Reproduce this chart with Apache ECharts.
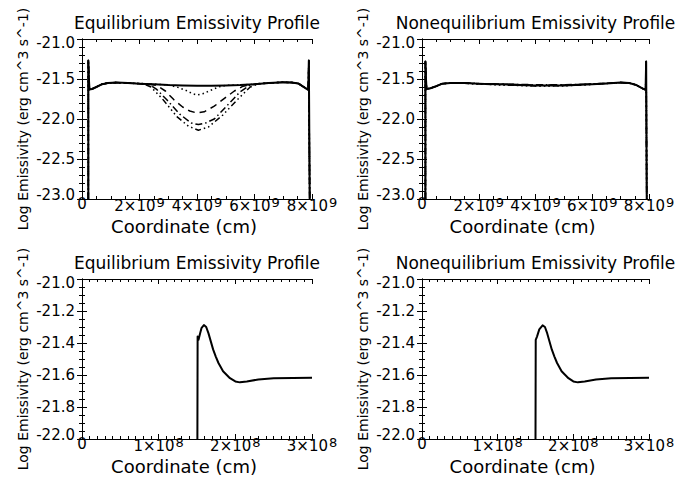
<!DOCTYPE html>
<html>
<head>
<meta charset="utf-8">
<script src="https://cdn.jsdelivr.net/npm/echarts@6/dist/echarts.min.js"></script>
<style>
html,body{margin:0;padding:0;background:#fff;}
#chart{width:686px;height:479px;}
</style>
</head>
<body>
<div id="chart"></div>
<script>
// ---------------- DATA ----------------
const titles = ['Equilibrium Emissivity Profile', 'Nonequilibrium Emissivity Profile',
                'Equilibrium Emissivity Profile', 'Nonequilibrium Emissivity Profile'];
const xTitle = 'Coordinate (cm)';
const yTitle = 'Log Emissivity (erg cm^3 s^-1)';

// x in units of 1e9 cm (top row), 1e8 cm (bottom row)
const topUnit = 1e9;
const botUnit = 1e8;
const topExp = 9;
const botExp = 8;

// Top-left: equilibrium, full loop
const eqTopSolid = [[0.22,-23.0],[0.22,-21.27],[0.24,-21.5],[0.26,-21.63],[0.35,-21.625],[0.5,-21.60],[0.7,-21.565],[0.9,-21.55],[1.2,-21.545],[1.6,-21.55],[2.0,-21.56],[2.5,-21.565],[3.0,-21.575],[3.5,-21.58],[4.0,-21.585],[4.5,-21.585],[5.0,-21.58],[5.5,-21.575],[6.0,-21.565],[6.5,-21.55],[7.0,-21.54],[7.3,-21.545],[7.52,-21.555],[7.76,-21.61],[7.87,-21.635],[7.89,-21.27],[7.92,-23.0]];
const eqTopDot = [[0.22,-23.0],[0.22,-21.27],[0.24,-21.5],[0.26,-21.63],[0.35,-21.625],[0.5,-21.60],[0.7,-21.565],[0.9,-21.55],[1.2,-21.545],[1.6,-21.55],[2.0,-21.56],[2.5,-21.565],[3.0,-21.575],[3.3,-21.6],[3.6,-21.64],[3.85,-21.685],[4.0,-21.70],[4.2,-21.685],[4.45,-21.645],[4.75,-21.6],[5.0,-21.58],[5.5,-21.575],[6.0,-21.565],[6.5,-21.55],[7.0,-21.54],[7.3,-21.545],[7.52,-21.555],[7.76,-21.61],[7.87,-21.635],[7.89,-21.27],[7.92,-23.0]];
const eqTopDash = [[0.22,-23.0],[0.22,-21.27],[0.24,-21.5],[0.26,-21.63],[0.35,-21.625],[0.5,-21.60],[0.7,-21.565],[0.9,-21.55],[1.2,-21.545],[1.6,-21.55],[2.0,-21.56],[2.3,-21.565],[2.6,-21.58],[2.9,-21.65],[3.2,-21.76],[3.5,-21.85],[3.75,-21.9],[4.0,-21.925],[4.25,-21.91],[4.6,-21.84],[5.0,-21.73],[5.3,-21.65],[5.6,-21.59],[5.9,-21.57],[6.5,-21.55],[7.0,-21.54],[7.3,-21.545],[7.52,-21.555],[7.76,-21.61],[7.87,-21.635],[7.89,-21.27],[7.92,-23.0]];
const eqTopDashDot = [[0.22,-23.0],[0.22,-21.27],[0.24,-21.5],[0.26,-21.63],[0.35,-21.625],[0.5,-21.60],[0.7,-21.565],[0.9,-21.55],[1.2,-21.545],[1.6,-21.55],[2.0,-21.555],[2.3,-21.56],[2.6,-21.63],[2.95,-21.76],[3.4,-21.94],[3.8,-22.05],[4.05,-22.07],[4.3,-22.05],[4.6,-22.0],[5.0,-21.85],[5.5,-21.66],[5.85,-21.575],[6.1,-21.56],[6.5,-21.55],[7.0,-21.54],[7.3,-21.545],[7.52,-21.555],[7.76,-21.61],[7.87,-21.635],[7.89,-21.27],[7.92,-23.0]];
const eqTopDash3Dot = [[0.22,-23.0],[0.22,-21.27],[0.24,-21.5],[0.26,-21.63],[0.35,-21.625],[0.5,-21.60],[0.7,-21.565],[0.9,-21.55],[1.2,-21.545],[1.6,-21.55],[2.1,-21.555],[2.4,-21.6],[2.8,-21.75],[3.3,-21.97],[3.7,-22.09],[4.05,-22.14],[4.4,-22.1],[4.9,-21.95],[5.4,-21.76],[5.85,-21.6],[6.2,-21.555],[6.5,-21.55],[7.0,-21.54],[7.3,-21.545],[7.52,-21.555],[7.76,-21.61],[7.87,-21.635],[7.89,-21.27],[7.92,-23.0]];

// Top-right: nonequilibrium, full loop
const neqTopSolid = [[0.12,-23.0],[0.12,-21.28],[0.14,-21.5],[0.16,-21.625],[0.3,-21.615],[0.5,-21.59],[0.7,-21.56],[1.0,-21.55],[1.5,-21.55],[2.0,-21.56],[3.0,-21.57],[4.0,-21.58],[5.0,-21.58],[6.0,-21.565],[6.5,-21.555],[7.0,-21.545],[7.3,-21.55],[7.55,-21.575],[7.75,-21.615],[7.88,-21.635],[7.9,-21.28],[7.92,-23.0]];
const neqTopDot = [[0.12,-23.0],[0.12,-21.28],[0.14,-21.5],[0.16,-21.625],[0.3,-21.615],[0.5,-21.59],[0.7,-21.56],[1.0,-21.55],[1.5,-21.552],[2.0,-21.562],[3.0,-21.575],[4.0,-21.585],[5.0,-21.583],[6.0,-21.567],[6.5,-21.555],[7.0,-21.545],[7.3,-21.55],[7.55,-21.575],[7.75,-21.615],[7.88,-21.635],[7.9,-21.28],[7.92,-23.0]];
const neqTopDash = [[0.12,-23.0],[0.12,-21.28],[0.14,-21.5],[0.16,-21.625],[0.3,-21.615],[0.5,-21.59],[0.7,-21.56],[1.0,-21.55],[1.5,-21.551],[2.0,-21.558],[3.0,-21.567],[4.0,-21.575],[5.0,-21.575],[6.0,-21.563],[6.5,-21.555],[7.0,-21.545],[7.3,-21.55],[7.55,-21.575],[7.75,-21.615],[7.88,-21.635],[7.9,-21.28],[7.92,-23.0]];
const neqTopDashDot = [[0.12,-23.0],[0.12,-21.28],[0.14,-21.5],[0.16,-21.625],[0.3,-21.615],[0.5,-21.59],[0.7,-21.56],[1.0,-21.55],[1.5,-21.549],[2.0,-21.556],[3.0,-21.565],[4.0,-21.572],[5.0,-21.572],[6.0,-21.562],[6.5,-21.555],[7.0,-21.545],[7.3,-21.55],[7.55,-21.575],[7.75,-21.615],[7.88,-21.635],[7.9,-21.28],[7.92,-23.0]];
const neqTopDash3Dot = [[0.12,-23.0],[0.12,-21.28],[0.14,-21.5],[0.16,-21.625],[0.3,-21.615],[0.5,-21.59],[0.7,-21.56],[1.0,-21.55],[1.5,-21.553],[2.0,-21.563],[3.0,-21.577],[4.0,-21.587],[5.0,-21.585],[6.0,-21.568],[6.5,-21.555],[7.0,-21.545],[7.3,-21.55],[7.55,-21.575],[7.75,-21.615],[7.88,-21.635],[7.9,-21.28],[7.92,-23.0]];

// Bottom-left: equilibrium, zoom near footpoint (x in 1e8 cm)
const eqBot = [[1.505,-22.0],[1.508,-21.36],[1.52,-21.38],[1.54,-21.34],[1.56,-21.305],[1.59,-21.288],[1.62,-21.30],[1.65,-21.34],[1.68,-21.39],[1.71,-21.44],[1.745,-21.485],[1.78,-21.525],[1.84,-21.577],[1.93,-21.62],[2.0,-21.64],[2.06,-21.646],[2.15,-21.64],[2.3,-21.628],[2.5,-21.621],[2.75,-21.618],[3.0,-21.617]];
// Bottom-right: nonequilibrium
const neqBot = [[1.50,-22.0],[1.503,-21.38],[1.52,-21.36],[1.55,-21.315],[1.594,-21.29],[1.625,-21.30],[1.655,-21.34],[1.685,-21.39],[1.715,-21.44],[1.75,-21.485],[1.785,-21.525],[1.845,-21.577],[1.935,-21.62],[2.0,-21.64],[2.06,-21.646],[2.15,-21.64],[2.3,-21.628],[2.5,-21.621],[2.75,-21.618],[3.0,-21.617]];

// axis ranges / ticks
const topXRange = [0, 8e9], topXStep = 2e9;
const topYRange = [-23.0, -21.0], topYStep = 0.5;
const botXRange = [0, 3e8], botXStep = 1e8;
const botYRange = [-22.0, -21.0], botYStep = 0.2;

// ---------------- CHART ----------------
const FONT = 'DejaVu Sans';
const chart = echarts.init(document.getElementById('chart'), null, {renderer: 'svg'});

const grids = [
  {left: 82, top: 39, width: 230, height: 160},
  {left: 422, top: 39, width: 227, height: 160},
  {left: 82, top: 279, width: 230, height: 160},
  {left: 422, top: 279, width: 227, height: 160}
];

function scaleX(arr, unit) { return arr.map(p => [p[0] * unit, p[1]]); }

function xLabelFmt(unit, exp) {
  return function (v) {
    if (Math.abs(v) < 1e-6) return '0';
    const m = Math.round(v / unit);
    return m + '×10{s|' + exp + '}';
  };
}
function yLabelFmt(range) {
  return function (v) {
    const t = v.toFixed(1);
    if (Math.abs(v - range[1]) < 1e-9) return '{hi|' + t + '}';
    if (Math.abs(v - range[0]) < 1e-9) return '{lo|' + t + '}';
    return t;
  };
}

const xAxes = [], yAxes = [];
const axisLineStyle = {show: true, lineStyle: {color: '#000', width: 1}};
for (let i = 0; i < 4; i++) {
  const top = i < 2;
  const xr = top ? topXRange : botXRange;
  const xs = top ? topXStep : botXStep;
  const yr = top ? topYRange : botYRange;
  const ys = top ? topYStep : botYStep;
  const xMinor = top ? 4 : 10;
  const yMinor = top ? 5 : 4;
  const fmt = xLabelFmt(top ? topUnit : botUnit, top ? topExp : botExp);
  const common = {type: 'value', gridIndex: i, splitLine: {show: false}, axisLine: axisLineStyle};
  xAxes.push(Object.assign({}, common, {
    position: 'bottom', min: xr[0], max: xr[1], interval: xs,
    name: xTitle, nameLocation: 'middle', nameGap: 18,
    nameTextStyle: {fontFamily: FONT, fontSize: 18, color: '#000', padding: [0, 26, 0, 0], verticalAlign: 'top'},
    axisTick: {show: true, inside: true, length: 5, lineStyle: {color: '#000'}},
    minorTick: {show: true, splitNumber: xMinor, length: 3, lineStyle: {color: '#000'}},
    axisLabel: {show: true, margin: -3, formatter: fmt, color: '#000', fontFamily: FONT, fontSize: 15,
      verticalAlign: 'top',
      rich: {
        s: {fontFamily: FONT, fontSize: 13, color: '#000', verticalAlign: 'bottom', padding: [0, 0, 6, 1]}
      }}
  }));
  xAxes.push(Object.assign({}, common, {
    position: 'top', min: xr[0], max: xr[1], interval: xs,
    axisTick: {show: true, inside: true, length: 5, lineStyle: {color: '#000'}},
    minorTick: {show: true, splitNumber: xMinor, length: 3, lineStyle: {color: '#000'}},
    axisLabel: {show: false}
  }));
  yAxes.push(Object.assign({}, common, {
    position: 'left', min: yr[0], max: yr[1], interval: ys,
    name: yTitle, nameLocation: 'middle', nameGap: 52,
    nameTextStyle: {fontFamily: FONT, fontSize: 14, color: '#000'},
    axisTick: {show: true, inside: true, length: 5, lineStyle: {color: '#000'}},
    minorTick: {show: true, splitNumber: yMinor, length: 3, lineStyle: {color: '#000'}},
    axisLabel: {show: true, margin: 7, color: '#000', fontFamily: FONT, fontSize: 15,
      formatter: yLabelFmt(yr),
      rich: {
        hi: {fontFamily: FONT, fontSize: 15, color: '#000', padding: [8, 0, 0, 0]},
        lo: {fontFamily: FONT, fontSize: 15, color: '#000', padding: [0, 0, 9, 0]}
      }}
  }));
  yAxes.push(Object.assign({}, common, {
    position: 'right', min: yr[0], max: yr[1], interval: ys,
    axisTick: {show: true, inside: true, length: 5, lineStyle: {color: '#000'}},
    minorTick: {show: true, splitNumber: yMinor, length: 3, lineStyle: {color: '#000'}},
    axisLabel: {show: false}
  }));
}

const styles = [
  {type: 'solid', width: 2},
  {type: [1.5, 3], width: 1.5},
  {type: [7, 5], width: 1.5},
  {type: [7, 3, 1.5, 3], width: 1.5},
  {type: [6, 3, 1.5, 3, 1.5, 3, 1.5, 3], width: 1.5}
];

function line(data, gi, unit, st) {
  return {
    type: 'line', xAxisIndex: gi * 2, yAxisIndex: gi * 2,
    data: scaleX(data, unit), showSymbol: false, symbol: 'none',
    clip: true, animation: false, silent: true,
    lineStyle: {color: '#000', width: st.width, type: st.type, cap: 'butt', join: 'round'}
  };
}

const series = [];
[eqTopSolid, eqTopDot, eqTopDash, eqTopDashDot, eqTopDash3Dot].forEach((d, k) => series.push(line(d, 0, topUnit, styles[k])));
[neqTopSolid, neqTopDot, neqTopDash, neqTopDashDot, neqTopDash3Dot].forEach((d, k) => series.push(line(d, 1, topUnit, styles[k])));
series.push(line(eqBot, 2, botUnit, styles[0]));
series.push(line(neqBot, 3, botUnit, styles[0]));

const titleOpts = grids.map((g, i) => ({
  text: titles[i],
  left: g.left + g.width / 2,
  top: i < 2 ? 16 : 256,
  padding: 0,
  textAlign: 'center',
  textStyle: {fontFamily: FONT, fontSize: 17, lineHeight: 14, fontWeight: 'normal', color: '#000'}
}));

chart.setOption({
  backgroundColor: '#fff',
  animation: false,
  title: titleOpts,
  grid: grids,
  xAxis: xAxes,
  yAxis: yAxes,
  series: series
});
</script>
</body>
</html>
